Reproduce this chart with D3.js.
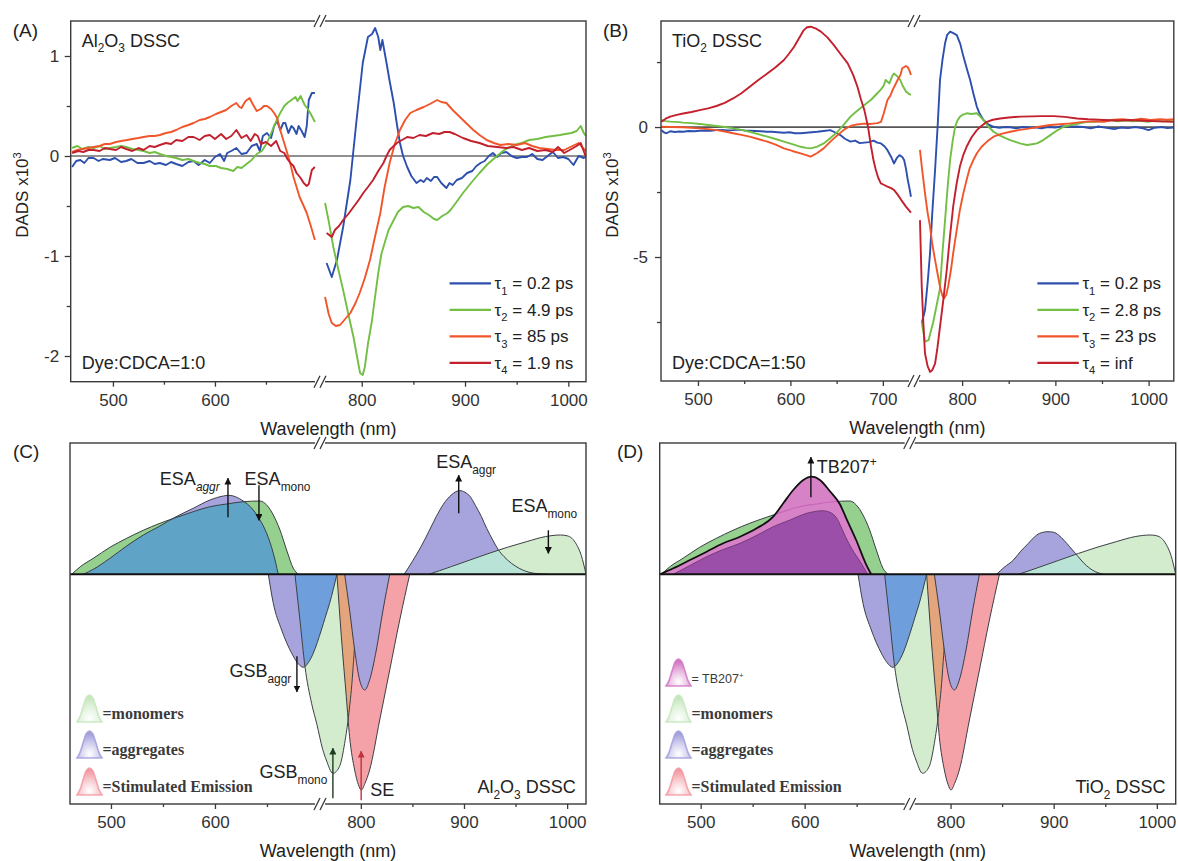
<!DOCTYPE html>
<html><head><meta charset="utf-8">
<script src="https://cdn.jsdelivr.net/npm/d3@7"></script>
<style>body{margin:0;background:#fff}svg{display:block;font-family:"Liberation Sans",Arial,sans-serif}</style>
</head><body><svg id="chart" width="1178" height="861"></svg>
<script>
// ================= DATA =================
const seriesColors = ['#2d4fae', '#72bf44', '#f1552b', '#c3202e'];
const tauIndex = ['1', '2', '3', '4'];
const aLegendLabels = ['0.2 ps', '4.9 ps', '85 ps', '1.9 ns'];
const bLegendLabels = ['0.2 ps', '2.8 ps', '23 ps', 'inf'];
const xMajorAC = [500, 600, 800, 900, 1000];
const xMajorB = [500, 600, 700, 800, 900, 1000];
const xMinor = [550, 650, 850, 950];
const aYMajor = [-2, -1, 0, 1];
const aYMinor = [-1.5, -0.5, 0.5];
const bYMajor = [-5, 0];
const bYMinor = [-7.5, -2.5, 2.5];

// Panel A (Al2O3, Dye:CDCA=1:0)  [wavelength nm, DADS x1e3]
const aT1L = [[460,-0.11],[464,-0.05],[468,-0.04],[472,-0.07],[476,-0.02],[481,-0.02],[486,-0.05],[490,-0.03],[497,-0.04],[502,-0.02],[508,-0.06],[513,-0.05],[518,-0.03],[524,-0.07],[530,-0.07],[536,-0.05],[541,-0.08],[546,-0.07],[552,-0.09],[557,-0.06],[562,-0.08],[568,-0.1],[574,-0.06],[579,-0.05],[584,-0.09],[590,-0.04],[595,-0.07],[600,-0.01],[605,0.02],[609,-0.05],[612,0.03],[616,0.05],[621,0.08],[626,0.02],[631,0.03],[636,0.1],[641,0.12],[644,0.05],[647,0.2],[651,0.23],[655,0.18],[658,0.3],[661,0.35],[664,0.26],[667,0.33],[669,0.33],[672,0.23],[675,0.3],[677,0.28],[680,0.22],[682,0.3],[685,0.25],[688,0.19],[690,0.3],[692,0.56],[695,0.63],[698,0.63]];
const aT2L = [[460,0.08],[465,0.1],[470,0.07],[476,0.09],[481,0.08],[487,0.1],[492,0.07],[497,0.08],[503,0.09],[508,0.1],[513,0.09],[519,0.07],[525,0.06],[530,0.05],[536,0.03],[541,0.04],[546,0.02],[552,0.0],[557,-0.01],[562,-0.02],[568,-0.04],[574,-0.03],[579,-0.05],[585,-0.07],[590,-0.08],[595,-0.1],[601,-0.1],[606,-0.12],[612,-0.13],[618,-0.15],[622,-0.11],[626,-0.12],[631,-0.08],[636,-0.04],[641,0.02],[646,0.05],[651,0.13],[656,0.25],[661,0.37],[664,0.43],[668,0.5],[671,0.53],[675,0.56],[679,0.59],[681,0.55],[684,0.6],[688,0.51],[691,0.47],[694,0.42],[698,0.34]];
const aT3L = [[460,0.04],[465,0.06],[470,0.07],[476,0.08],[481,0.09],[487,0.1],[492,0.12],[497,0.12],[503,0.14],[508,0.15],[514,0.16],[519,0.17],[525,0.18],[530,0.19],[536,0.2],[541,0.2],[546,0.21],[552,0.23],[557,0.24],[562,0.26],[568,0.29],[574,0.31],[579,0.33],[585,0.36],[590,0.37],[595,0.39],[601,0.42],[606,0.44],[611,0.46],[616,0.5],[621,0.53],[624,0.49],[626,0.48],[630,0.55],[634,0.58],[637,0.52],[641,0.45],[645,0.47],[648,0.5],[651,0.5],[655,0.47],[658,0.43],[661,0.38],[664,0.26],[667,0.16],[670,0.06],[674,-0.08],[677,-0.21],[680,-0.31],[683,-0.41],[687,-0.5],[690,-0.57],[694,-0.7],[698,-0.84]];
const aT4L = [[460,0.03],[466,0.05],[471,0.04],[476,0.06],[481,0.06],[487,0.05],[492,0.08],[497,0.07],[503,0.06],[508,0.09],[513,0.07],[519,0.05],[525,0.08],[530,0.06],[536,0.1],[541,0.09],[546,0.11],[552,0.13],[557,0.12],[562,0.16],[568,0.15],[574,0.19],[579,0.19],[585,0.16],[590,0.2],[595,0.21],[600,0.17],[606,0.22],[611,0.17],[616,0.2],[621,0.26],[626,0.18],[631,0.21],[635,0.15],[639,0.22],[642,0.2],[645,0.12],[650,0.14],[655,0.1],[660,0.15],[664,0.05],[668,0.03],[671,-0.03],[674,-0.07],[677,-0.1],[680,-0.17],[684,-0.22],[687,-0.27],[690,-0.3],[692,-0.28],[695,-0.14],[698,-0.11]];
const aT1R = [[766,-1.07],[771,-1.21],[776,-1.04],[782,-0.71],[789,-0.24],[795,0.36],[801,0.93],[806,1.19],[810,1.22],[813,1.28],[816,1.19],[818,1.06],[820,1.16],[824,0.93],[827,0.75],[831,0.53],[834,0.32],[837,0.13],[840,0.0],[844,-0.11],[848,-0.2],[853,-0.27],[857,-0.24],[860,-0.26],[863,-0.22],[867,-0.25],[870,-0.21],[873,-0.21],[877,-0.27],[882,-0.32],[885,-0.27],[888,-0.29],[892,-0.24],[897,-0.22],[902,-0.17],[907,-0.15],[911,-0.1],[915,-0.07],[919,-0.05],[923,0.0],[927,0.03],[931,-0.01],[935,0.03],[940,0.04],[945,0.0],[950,-0.02],[955,-0.01],[960,-0.01],[965,0.02],[970,-0.03],[975,-0.04],[980,0.0],[985,0.04],[990,-0.02],[995,-0.01],[1000,-0.03],[1005,-0.09],[1010,0.0],[1015,-0.02],[1017,-0.01]];
const aT2R = [[764.5,-0.47],[768,-0.65],[772.5,-0.91],[777,-1.12],[782,-1.34],[787,-1.58],[792,-1.81],[795,-1.98],[798.4,-2.17],[801,-2.19],[803,-2.11],[806,-1.88],[810,-1.64],[813,-1.4],[816,-1.17],[819,-0.98],[823,-0.84],[826,-0.74],[831,-0.64],[835,-0.56],[840,-0.51],[845,-0.5],[850,-0.52],[855,-0.51],[860,-0.56],[865,-0.59],[870,-0.63],[873,-0.64],[878,-0.6],[883,-0.57],[886,-0.54],[891,-0.47],[898,-0.37],[905,-0.28],[914,-0.17],[922,-0.08],[931,0.0],[938,0.06],[947,0.11],[955,0.13],[962,0.16],[970,0.17],[978,0.19],[985,0.2],[992,0.21],[997,0.22],[1003,0.23],[1008,0.25],[1012,0.3],[1015,0.23],[1017,0.2]];
const aT3R = [[764.5,-1.41],[768,-1.58],[771,-1.67],[775,-1.7],[779,-1.69],[784,-1.63],[789,-1.57],[794,-1.47],[798,-1.37],[803,-1.22],[808,-1.04],[813,-0.8],[818,-0.57],[822,-0.32],[827,-0.07],[832,0.12],[837,0.26],[842,0.36],[847,0.43],[853,0.46],[860,0.49],[866,0.52],[873,0.56],[877,0.54],[882,0.53],[888,0.46],[895,0.39],[901,0.33],[908,0.26],[914,0.21],[921,0.16],[928,0.13],[934,0.11],[942,0.12],[950,0.11],[958,0.13],[965,0.1],[972,0.08],[980,0.07],[988,0.06],[996,0.06],[1004,0.1],[1010,0.13],[1014,0.08],[1017,0.05]];
const aT4R = [[766,-0.77],[771,-0.81],[774,-0.74],[778,-0.7],[782,-0.64],[787,-0.58],[792,-0.51],[797,-0.44],[801.5,-0.37],[806,-0.31],[811,-0.24],[816,-0.15],[821,-0.07],[824,0.0],[827,0.06],[831,0.1],[834,0.13],[839,0.16],[844,0.19],[850,0.18],[856,0.21],[862,0.2],[869,0.23],[875,0.22],[880,0.24],[885,0.24],[890,0.22],[898,0.18],[906,0.15],[914,0.13],[922,0.1],[931,0.09],[940,0.08],[947,0.09],[955,0.06],[962,0.08],[970,0.05],[978,0.06],[985,0.04],[990,0.09],[996,0.03],[1003,0.07],[1008,0.1],[1012,0.13],[1017,-0.01]];

// Panel B (TiO2, Dye:CDCA=1:50)
const bT1L = [[460.5,-0.12],[463,-0.2],[466,-0.24],[470,-0.16],[475,-0.19],[480,-0.17],[484,-0.18],[490,-0.15],[496,-0.16],[502,-0.14],[508,-0.13],[514,-0.14],[520,-0.12],[526,-0.11],[532,-0.13],[538,-0.12],[544,-0.1],[550,-0.13],[556,-0.14],[562,-0.15],[568,-0.16],[574,-0.18],[580,-0.18],[586,-0.2],[593,-0.22],[599,-0.2],[605,-0.24],[611,-0.24],[617,-0.22],[623,-0.2],[629,-0.18],[636,-0.15],[643,-0.12],[648,-0.2],[654,-0.31],[659,-0.45],[665,-0.56],[670,-0.52],[675,-0.62],[680,-0.6],[685,-0.58],[690,-0.52],[694,-0.6],[698,-0.63],[702,-0.75],[705,-0.89],[709,-1.15],[712,-1.4],[715,-1.2],[718,-1.08],[721,-1.15],[723,-1.27],[725,-1.6],[727,-2.04],[729,-2.4],[730.4,-2.68]];
const bT2L = [[460.5,0.27],[465,0.23],[470,0.21],[477,0.2],[484,0.17],[493,0.15],[502,0.12],[511,0.08],[520,0.04],[529,0.0],[538,-0.05],[547,-0.11],[556,-0.18],[565,-0.27],[575,-0.37],[584,-0.46],[593,-0.56],[602,-0.66],[611,-0.76],[617,-0.8],[622,-0.82],[629,-0.75],[636,-0.63],[643,-0.43],[651,-0.18],[658,0.1],[665,0.4],[672,0.62],[680,0.85],[687,1.04],[694,1.3],[698,1.45],[701,1.6],[703,1.81],[707,1.68],[710,1.95],[712,2.06],[716,1.94],[719,1.8],[721,1.62],[725,1.37],[728,1.28],[730.4,1.24]];
const bT3L = [[460.5,0.01],[470,0.0],[484,-0.01],[493,-0.03],[502,-0.05],[511,-0.08],[520,-0.12],[529,-0.17],[538,-0.24],[547,-0.3],[556,-0.37],[565,-0.46],[575,-0.56],[584,-0.68],[593,-0.82],[602,-0.92],[611,-1.01],[617,-1.08],[622,-1.14],[629,-1.0],[636,-0.82],[643,-0.57],[651,-0.31],[658,-0.1],[665,0.04],[672,0.1],[680,0.13],[687,0.12],[694,0.15],[698,0.2],[701,0.53],[705,1.04],[708,1.2],[710.5,1.42],[713,1.6],[716,1.81],[719,2.0],[721,2.26],[725,2.35],[727,2.3],[728.6,2.19],[730.4,2.0]];
const bT4L = [[460.5,0.2],[465,0.32],[470,0.4],[477,0.47],[484,0.52],[493,0.58],[502,0.65],[511,0.72],[520,0.81],[529,0.93],[538,1.1],[547,1.3],[556,1.55],[565,1.8],[575,2.06],[584,2.3],[593,2.58],[598,2.8],[604,3.09],[609,3.4],[614.5,3.73],[618,3.84],[622,3.86],[627,3.8],[633,3.67],[640,3.45],[647,3.15],[654,2.82],[662,2.45],[668,2.0],[672.5,1.55],[676,1.1],[680,0.65],[684,0.0],[687,-0.7],[690,-1.3],[692.4,-1.65],[695,-1.95],[697.8,-2.17],[701,-2.22],[705,-2.29],[709,-2.35],[712,-2.42],[716,-2.6],[720,-2.81],[725,-3.06],[730.4,-3.29]];
const bT1R = [[756.7,-7.55],[760.2,-7.04],[763,-6.0],[765.6,-4.86],[768,-3.3],[771,-1.65],[774,0.2],[776.3,1.81],[779,2.6],[781.7,3.22],[784,3.55],[787.1,3.67],[790,3.62],[794.3,3.54],[798,3.2],[801.4,2.71],[805,2.25],[808.6,1.81],[812,1.3],[815.8,0.78],[819,0.5],[822.9,0.27],[828,0.1],[833.7,0.01],[840,-0.03],[846,0.0],[851.6,-0.01],[858,-0.05],[865,0.0],[872,-0.02],[878.5,-0.01],[885,-0.05],[892,0.0],[900,-0.02],[907,0.03],[914.3,0.01],[922,0.02],[930,0.0],[938,-0.05],[946,0.02],[955,-0.03],[963,-0.08],[970,-0.02],[978,-0.04],[986,0.0],[994,-0.05],[1000,-0.12],[1006,-0.03],[1014,0.0],[1020,-0.04],[1027,-0.02]];
const bT2R = [[756.7,-7.49],[760.2,-8.26],[764,-8.2],[769.1,-7.49],[773,-6.8],[776.3,-6.2],[779,-4.8],[781.7,-3.58],[784.5,-2.3],[787.1,-1.27],[790,-0.5],[792.5,0.01],[795,0.25],[797.8,0.4],[801,0.48],[805,0.53],[810,0.5],[815.8,0.53],[819,0.42],[822.9,0.27],[828,0.02],[833.7,-0.18],[840,-0.32],[846,-0.42],[851.6,-0.5],[858,-0.58],[863,-0.64],[869.5,-0.69],[875,-0.66],[880.3,-0.63],[887,-0.5],[894.6,-0.31],[901,-0.15],[908.9,0.01],[917,0.08],[925,0.13],[934,0.2],[942,0.2],[950,0.22],[959,0.27],[967,0.22],[975,0.25],[983,0.22],[991,0.24],[999,0.2],[1007,0.25],[1015,0.22],[1021,0.24],[1027,0.22]];
const bT3R = [[754.8,-0.88],[757,-1.6],[760.2,-2.55],[763,-3.3],[765.6,-3.83],[768,-4.5],[771,-5.12],[774,-5.7],[776.3,-6.14],[778.5,-6.45],[780.6,-6.59],[783,-6.45],[785,-6.14],[788,-5.5],[790.4,-4.86],[794,-4.0],[797.6,-3.19],[801,-2.6],[804.8,-2.04],[808,-1.6],[812,-1.27],[816,-1.0],[820.9,-0.76],[827,-0.55],[833.7,-0.37],[842,-0.26],[851.6,-0.18],[862,-0.11],[873.1,-0.05],[884,0.02],[894.6,0.08],[905,0.11],[916.1,0.14],[930,0.2],[940,0.22],[952,0.2],[962,0.28],[972,0.3],[982,0.26],[992,0.32],[1002,0.27],[1012,0.3],[1020,0.28],[1027,0.3]];
const bT4R = [[754.8,-3.58],[756.7,-6.14],[758.5,-7.6],[760.2,-8.71],[763,-9.2],[765.6,-9.42],[768,-9.35],[771,-9.1],[773.5,-8.5],[776.3,-7.68],[780,-6.6],[783.5,-5.5],[787,-4.2],[790.4,-3.06],[794,-2.2],[797.6,-1.52],[801,-1.1],[804.8,-0.76],[810,-0.4],[815.8,-0.12],[821,0.05],[826.5,0.2],[833,0.28],[840.9,0.33],[850,0.37],[862.4,0.4],[875,0.41],[886,0.42],[898.2,0.42],[910,0.39],[923.3,0.33],[935,0.3],[952,0.27],[965,0.25],[980,0.27],[995,0.24],[1010,0.22],[1027,0.2]];

// Panels C / D: schematic band shapes [wavelength nm, amplitude a.u.]
const esaMonoL = [[462.2,0],[471,0.08],[483,0.16],[499,0.27],[515.1,0.36],[531,0.44],[547.1,0.51],[563.2,0.57],[579.1,0.626],[595.2,0.676],[611.3,0.703],[627.2,0.726],[643.3,0.733],[649.7,0.693],[656.1,0.593],[662.5,0.443],[668.9,0.243],[675.3,0.06],[680.1,0]];
const cEsaAggrL = [[473.4,0],[483,0.05],[499,0.16],[515.1,0.283],[531.1,0.393],[547.1,0.483],[561.5,0.57],[579.1,0.66],[595.2,0.743],[608,0.783],[613,0.79],[617.6,0.783],[625.7,0.743],[636.8,0.643],[643.3,0.543],[649.7,0.41],[656.1,0.21],[660.9,0]];
const cEsaAggrR = [[842,0],[850,0.13],[858.4,0.277],[866,0.43],[873.1,0.577],[880,0.7],[887.7,0.793],[895.7,0.837],[901,0.82],[906,0.777],[911,0.69],[916.9,0.577],[922,0.46],[927.9,0.343],[933,0.25],[938.8,0.177],[946,0.11],[953.5,0.06],[960,0.03],[968,0.01],[983,0]];
const esaMonoR = [[865.8,0],[876,0.035],[887.7,0.077],[905,0.14],[924.3,0.21],[942,0.27],[960.8,0.327],[979,0.377],[993.6,0.393],[1000,0.385],[1004.6,0.36],[1009,0.3],[1013.7,0.19],[1018.3,0]];
const gsbAggr1 = [[651.3,0],[656.1,-0.29],[664.1,-0.557],[673.8,-0.79],[679,-0.88],[684.9,-0.93],[690,-0.88],[694.5,-0.79],[761.7,-0.557],[765.5,-0.43],[769.7,-0.29],[776.8,0]];
const gsbMono = [[676.9,0],[681.7,-0.457],[686.5,-0.92],[692.9,-1.29],[698,-1.5],[763,-1.75],[766.5,-1.857],[772.9,-1.99],[779.4,-1.92],[784.3,-1.69],[788.4,-1.39],[792.3,-0.957],[795,-0.457],[796.2,0]];
const stimEm = [[776.8,0],[781.1,-0.624],[785.9,-1.224],[789.1,-1.624],[794,-1.957],[797.5,-2.1],[800.5,-2.157],[804,-2.09],[808.5,-1.957],[818.3,-1.457],[828,-0.957],[837.7,-0.457],[847.4,0]];
const gsbAggr2 = [[784.3,0],[789.1,-0.357],[794,-0.757],[798.8,-1.057],[803.7,-1.157],[808.5,-1.057],[815,-0.757],[821.5,-0.357],[828,0]];
const dEsaAggrL = [[473.7,0],[490,0.09],[505.8,0.176],[521,0.245],[537.8,0.31],[554,0.39],[569.8,0.476],[585.9,0.543],[601.9,0.61],[610,0.628],[617,0.636],[624.3,0.62],[631.5,0.55],[636,0.45],[642.4,0.31],[648,0.21],[653.2,0.13],[660.4,0]];
const dTB207 = [[460.9,0],[473.7,0.06],[489.7,0.143],[505.8,0.226],[521.7,0.31],[537.8,0.376],[553.8,0.46],[569.8,0.576],[579.4,0.71],[589,0.843],[598.7,0.943],[606.7,0.976],[614.7,0.943],[624.3,0.83],[633.9,0.7],[640,0.56],[649.5,0.343],[658.6,0.11],[664,0]];
const dEsaAggrR = [[844.6,0],[852,0.07],[861,0.143],[868,0.23],[875.5,0.31],[881,0.37],[886.4,0.41],[894.5,0.426],[900,0.42],[904.7,0.393],[910,0.34],[915.5,0.276],[921,0.21],[926.5,0.143],[932,0.085],[937.4,0.043],[943,0.015],[948.3,0]];

// ================= LAYOUT =================
const P = {
  A: {x0:70.7, xb:320, x1:586, top:21, bottom:381.7, l:[458.6,703], r:[759.6,1017.1], y:[-2.257,1.35]},
  B: {x0:661, xb:914, x1:1173.8, top:21, bottom:381, l:[460,733.7], r:[748.4,1027], y:[-9.77,4.08]},
  C: {x0:70, xb:320, x1:586, top:443, bottom:804, l:[460.6,701], r:[760.4,1018.3], y:[-2.297,1.313]},
  D: {x0:659.7, xb:909.7, x1:1175.7, top:443, bottom:804, l:[460.6,701], r:[760.4,1018.3], y:[-2.297,1.313]}
};

const svg = d3.select('#chart');
const defs = svg.append('defs');
let uid = 0;

function scales(p) {
  return {
    x: d3.scaleLinear().domain([p.l[0], p.l[1], p.r[0], p.r[1]]).range([p.x0, p.xb, p.xb, p.x1]),
    y: d3.scaleLinear().domain(p.y).range([p.bottom, p.top])
  };
}

function rich(g, x, y, segs, size, opts = {}) {
  const t = g.append('text').attr('x', x).attr('y', y).attr('font-size', size).attr('fill', opts.fill || '#222');
  if (opts.anchor) t.attr('text-anchor', opts.anchor);
  if (opts.family) t.attr('font-family', opts.family);
  if (opts.transform) t.attr('transform', opts.transform);
  let cur = 0;
  segs.forEach(s => {
    const seg = typeof s === 'string' ? {t: s} : s;
    const target = seg.sub ? size * 0.32 : seg.sup ? -size * 0.42 : 0;
    const ts = t.append('tspan').attr('dy', (target - cur).toFixed(2)).text(seg.t);
    if (seg.sub || seg.sup) ts.attr('font-size', (size * 0.66).toFixed(1));
    if (seg.it) ts.attr('font-style', 'italic');
    cur = target;
  });
  return t;
}

function frame(g, p) {
  g.append('rect').attr('x', p.x0).attr('y', p.top).attr('width', p.x1 - p.x0).attr('height', p.bottom - p.top)
    .attr('fill', 'none').attr('stroke', '#3a3a3a').attr('stroke-width', 1.4);
}
function breakMarks(g, p) {
  [p.top, p.bottom].forEach(yy => {
    g.append('rect').attr('x', p.xb - 5).attr('y', yy - 2.5).attr('width', 10).attr('height', 5).attr('fill', '#fff');
    [-3, 3].forEach(o => g.append('line').attr('x1', p.xb + o - 3).attr('y1', yy + 6).attr('x2', p.xb + o + 3).attr('y2', yy - 6)
      .attr('stroke', '#333').attr('stroke-width', 1.2));
  });
}
function xAxis(g, p, sc, major, label) {
  const ax = g.append('g').attr('transform', `translate(0,${p.bottom})`)
    .call(d3.axisBottom(sc.x).tickValues(major).tickSize(5).tickPadding(7).tickFormat(d => String(d)));
  ax.select('.domain').remove();
  const axm = g.append('g').attr('transform', `translate(0,${p.bottom})`)
    .call(d3.axisBottom(sc.x).tickValues(xMinor).tickSize(3).tickFormat(''));
  axm.select('.domain').remove();
  [ax, axm].forEach(a => { a.attr('font-family', null).attr('font-size', null);
    a.selectAll('line').attr('stroke', '#3a3a3a').attr('stroke-width', 1.3);
    a.selectAll('text').attr('font-size', 17).attr('fill', '#333'); });
  g.append('text').attr('x', (p.x0 + p.x1) / 2).attr('y', p.bottom + 53).attr('text-anchor', 'middle')
    .attr('font-size', 18).attr('fill', '#222').text(label);
}
function yAxis(g, p, sc, major, minor, pad) {
  const ax = g.append('g').attr('transform', `translate(${p.x0},0)`)
    .call(d3.axisLeft(sc.y).tickValues(major).tickSize(6).tickPadding(pad).tickFormat(d => String(d)));
  ax.select('.domain').remove();
  const axm = g.append('g').attr('transform', `translate(${p.x0},0)`)
    .call(d3.axisLeft(sc.y).tickValues(minor).tickSize(4).tickFormat(''));
  axm.select('.domain').remove();
  [ax, axm].forEach(a => { a.attr('font-family', null).attr('font-size', null);
    a.selectAll('line').attr('stroke', '#3a3a3a').attr('stroke-width', 1.3);
    a.selectAll('text').attr('font-size', 17).attr('fill', '#333'); });
}

// ================= TOP PANELS (A, B) =================
function dadsPanel(key, p, series, legendLabels, yMaj, yMin, pad, titleSegs, ratio, letter, ylabX, zeroStyle) {
  const sc = scales(p);
  const g = svg.append('g');
  const cid = 'clip' + (uid++);
  defs.append('clipPath').attr('id', cid).append('rect').attr('x', p.x0).attr('y', p.top).attr('width', p.x1 - p.x0).attr('height', p.bottom - p.top);
  g.append('line').attr('x1', p.x0).attr('x2', p.x1).attr('y1', sc.y(0)).attr('y2', sc.y(0))
    .attr('stroke', zeroStyle[0]).attr('stroke-width', zeroStyle[1]);
  const line = d3.line().x(d => sc.x(d[0])).y(d => sc.y(d[1]));
  const lg = g.append('g').attr('clip-path', `url(#${cid})`);
  series.forEach((s, i) => {
    [s[0], s[1]].forEach(seg => lg.append('path').attr('d', line(seg)).attr('fill', 'none')
      .attr('stroke', seriesColors[i]).attr('stroke-width', 1.9).attr('stroke-linejoin', 'round'));
  });
  frame(g, p);
  breakMarks(g, p);
  xAxis(g, p, sc, key === 'B' ? xMajorB : xMajorAC, 'Wavelength (nm)');
  yAxis(g, p, sc, yMaj, yMin, pad);
  legendLabels.forEach((lab, i) => {
    const ly = 283.3 + 26.5 * i;
    const lx = p.x1 - 136.4;
    g.append('line').attr('x1', lx).attr('x2', lx + 41.4).attr('y1', ly).attr('y2', ly)
      .attr('stroke', seriesColors[i]).attr('stroke-width', 2.2);
    rich(g, lx + 45, ly + 6, ['τ', {t: tauIndex[i], sub: true}, ' = ' + lab], 17);
  });
  rich(g, p.x0 + 11, 46.5, titleSegs, 18);
  rich(g, p.x0 + 11, 369, [ratio], 18);
  g.append('text').attr('x', p.x0 - 58).attr('y', 37).attr('font-size', 19).attr('fill', '#222').text(letter);
  rich(g, 0, 0, ['DADS x10', {t: '3', sup: true}], 17, {anchor: 'middle', transform: `translate(${ylabX},195) rotate(-90)`});
}

dadsPanel('A', P.A, [[aT1L, aT1R], [aT2L, aT2R], [aT3L, aT3R], [aT4L, aT4R]], aLegendLabels, aYMajor, aYMinor, 5.5,
  ['Al', {t: '2', sub: true}, 'O', {t: '3', sub: true}, ' DSSC'], 'Dye:CDCA=1:0', '(A)', 28, ['#222', 1.1]);
dadsPanel('B', P.B, [[bT1L, bT1R], [bT2L, bT2R], [bT3L, bT3R], [bT4L, bT4R]], bLegendLabels, bYMajor, bYMinor, 7,
  ['TiO', {t: '2', sub: true}, ' DSSC'], 'Dye:CDCA=1:50', '(B)', 618, ['#555', 1.8]);

// ================= BOTTOM PANELS (C, D) =================
const COL = {
  green: '#95d08e', purple: '#a7a4dd', teal: '#5fa3c6', pale: '#d3eccd', ltTeal: '#b8e3d6',
  blue: '#6e9fdc', red: '#f4a2a7', orange: '#e4a47c', magenta: '#d781c7', dkPurple: '#9b4fa8', pink: '#c767b8', edge: '#3b3f46'
};

function schematic(key, p) {
  const sc = scales(p);
  const g = svg.append('g');
  const pc = 'clip' + (uid++);
  defs.append('clipPath').attr('id', pc).append('rect').attr('x', p.x0).attr('y', p.top).attr('width', p.x1 - p.x0).attr('height', p.bottom - p.top);
  const body = g.append('g').attr('clip-path', `url(#${pc})`);
  const area = d => d3.area().x(v => sc.x(v[0])).y0(sc.y(0)).y1(v => sc.y(v[1])).curve(d3.curveMonotoneX)(d);
  const edge = d => d3.line().x(v => sc.x(v[0])).y(v => sc.y(v[1])).curve(d3.curveMonotoneX)(d);
  const clipOf = d => { const id = 'cp' + (uid++); defs.append('clipPath').attr('id', id).append('path').attr('d', area(d)); return `url(#${id})`; };
  const fill = (d, c, clip) => { const e = body.append('path').attr('d', area(d)).attr('fill', c); if (clip) e.attr('clip-path', clip); };
  const outline = (d, c, w, clip) => { const e = body.append('path').attr('d', edge(d)).attr('fill', 'none').attr('stroke', c || COL.edge).attr('stroke-width', w || 1); if (clip) e.attr('clip-path', clip); };

  if (key === 'C') {
    fill(esaMonoL, COL.green);
    fill(cEsaAggrL, COL.purple);
    fill(cEsaAggrL, COL.teal, clipOf(esaMonoL));
    outline(esaMonoL); outline(cEsaAggrL);
  } else {
    fill(esaMonoL, COL.green);
    outline(esaMonoL);
    fill(dTB207, COL.magenta);
    const tbClip = clipOf(dTB207);
    fill(dEsaAggrL, COL.dkPurple, tbClip);
    outline(esaMonoL, COL.pink, 1.1, tbClip);
    outline(dEsaAggrL, '#6b3575', 0.9, tbClip);
    outline(dTB207, '#111', 1.8);
  }
  const aggrR = key === 'C' ? cEsaAggrR : dEsaAggrR;
  fill(aggrR, COL.purple);
  fill(esaMonoR, COL.pale);
  fill(aggrR, COL.ltTeal, clipOf(esaMonoR));
  outline(aggrR); outline(esaMonoR);
  fill(gsbAggr1, COL.purple);
  fill(gsbMono, COL.pale);
  fill(gsbAggr1, COL.blue, clipOf(gsbMono));
  fill(stimEm, COL.red);
  fill(stimEm, COL.orange, clipOf(gsbMono));
  outline(gsbAggr1); outline(gsbMono); outline(stimEm);
  fill(gsbAggr2, COL.purple);
  outline(gsbAggr2);

  g.append('line').attr('x1', p.x0).attr('x2', p.x1).attr('y1', sc.y(0)).attr('y2', sc.y(0)).attr('stroke', '#111').attr('stroke-width', 2);
  frame(g, p);
  breakMarks(g, p);
  xAxis(g, p, sc, xMajorAC, 'Wavelength (nm)');
  return {g, sc};
}

function arrow(g, sc, nm, a0, a1, color) {
  const id = 'ar' + (uid++);
  defs.append('marker').attr('id', id).attr('viewBox', '0 0 10 10').attr('refX', 9).attr('refY', 5)
    .attr('markerWidth', 7).attr('markerHeight', 7).attr('markerUnits', 'userSpaceOnUse').attr('orient', 'auto')
    .append('path').attr('d', 'M0,0L10,5L0,10Z').attr('fill', color);
  g.append('line').attr('x1', sc.x(nm)).attr('x2', sc.x(nm)).attr('y1', sc.y(a0)).attr('y2', sc.y(a1))
    .attr('stroke', color).attr('stroke-width', 1.4).attr('marker-end', `url(#${id})`);
}

function legendIcons(g, x, entries) {
  const prof = [[0,0],[0.12,0.2],[0.25,0.58],[0.37,0.9],[0.5,1],[0.63,0.9],[0.75,0.58],[0.88,0.2],[1,0]];
  entries.forEach(e => {
    const gid = 'gr' + (uid++);
    const rg = defs.append('radialGradient').attr('id', gid).attr('cx', '0.5').attr('cy', '0.85').attr('r', '0.75');
    rg.append('stop').attr('offset', '0').attr('stop-color', '#fff').attr('stop-opacity', 0.9);
    rg.append('stop').attr('offset', '1').attr('stop-color', e.c);
    const ar = d3.area().x(d => x + d[0] * 25).y0(e.top + 27).y1(d => e.top + 27 - d[1] * 27).curve(d3.curveCatmullRom);
    g.append('path').attr('d', ar(prof)).attr('fill', `url(#${gid})`).attr('stroke', e.c).attr('stroke-width', 1.6).attr('stroke-opacity', 0.85);
    const t = g.append('text').attr('x', x + 25.5).attr('y', e.top + 24).attr('fill', '#3a3a3a');
    if (e.serif) t.attr('font-family', '"Liberation Serif","Times New Roman",serif').attr('font-weight', 'bold').attr('font-size', 16).text(e.label);
    else { t.attr('font-size', 12.5); t.append('tspan').text('= TB207'); t.append('tspan').attr('dy', -5).attr('font-size', 8).text('+'); }
  });
}

const cPanel = schematic('C', P.C);
{
  const {g, sc} = cPanel;
  rich(g, sc.x(547), sc.y(0.89), ['ESA', {t: 'aggr', sub: true, it: true}], 18);
  arrow(g, sc, 612.5, 0.57, 0.96, '#111');
  rich(g, sc.x(628.5), sc.y(0.89), ['ESA', {t: 'mono', sub: true}], 18);
  arrow(g, sc, 642.3, 0.89, 0.54, '#111');
  rich(g, sc.x(873), sc.y(1.06), ['ESA', {t: 'aggr', sub: true}], 18);
  arrow(g, sc, 894.9, 0.61, 0.99, '#111');
  rich(g, sc.x(946), sc.y(0.625), ['ESA', {t: 'mono', sub: true}], 18);
  arrow(g, sc, 981.8, 0.44, 0.21, '#111');
  rich(g, sc.x(613.9), sc.y(-1.025), ['GSB', {t: 'aggr', sub: true}], 18);
  arrow(g, sc, 678.8, -0.82, -1.175, '#111');
  rich(g, sc.x(642.9), sc.y(-2.04), ['GSB', {t: 'mono', sub: true}], 18);
  arrow(g, sc, 772.9, -2.24, -1.74, '#1f3a1f');
  rich(g, sc.x(809.1), sc.y(-2.22), ['SE'], 18);
  arrow(g, sc, 800.3, -2.26, -1.77, '#c0323c');
  rich(g, P.C.x1 - 10.3, 793, ['Al', {t: '2', sub: true}, 'O', {t: '3', sub: true}, ' DSSC'], 18, {anchor: 'end'});
  g.append('text').attr('x', 13).attr('y', 458).attr('font-size', 19).attr('fill', '#222').text('(C)');
  legendIcons(g, 77, [
    {c: '#c5e6bd', top: 695, label: '=monomers', serif: true},
    {c: '#a29fdc', top: 731, label: '=aggregates', serif: true},
    {c: '#f29aa2', top: 768, label: '=Stimulated Emission', serif: true}
  ]);
}
const dPanel = schematic('D', P.D);
{
  const {g, sc} = dPanel;
  rich(g, sc.x(611.6), sc.y(1.01), ['TB207', {t: '+', sup: true}], 18);
  arrow(g, sc, 606, 0.77, 1.17, '#111');
  rich(g, P.D.x1 - 10.2, 793, ['TiO', {t: '2', sub: true}, ' DSSC'], 18, {anchor: 'end'});
  g.append('text').attr('x', 617).attr('y', 458).attr('font-size', 19).attr('fill', '#222').text('(D)');
  legendIcons(g, 666, [
    {c: '#d277c3', top: 659, label: '= TB207+', serif: false},
    {c: '#c5e6bd', top: 695, label: '=monomers', serif: true},
    {c: '#a29fdc', top: 731, label: '=aggregates', serif: true},
    {c: '#f29aa2', top: 768, label: '=Stimulated Emission', serif: true}
  ]);
}
</script></body></html>
